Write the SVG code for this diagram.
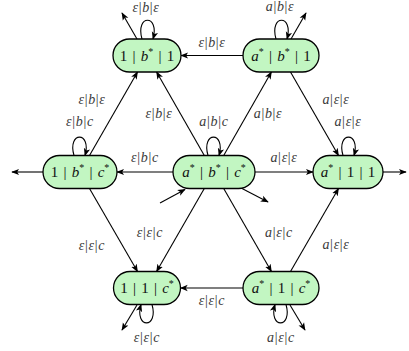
<svg xmlns="http://www.w3.org/2000/svg" width="409" height="351" viewBox="0 0 409 351">
<style>
.node rect{fill:#c2f6c2;stroke:#000;stroke-width:1.3}
.n{font-family:"Liberation Serif","DejaVu Serif",serif;font-size:15px;text-anchor:middle;fill:#111;word-spacing:1.5px}
.i{font-style:italic}
.s{font-size:10px}
.l{font-family:"Liberation Serif","DejaVu Serif",serif;font-size:14px;text-anchor:middle;fill:#3a3a3a;letter-spacing:0.7px}
.e path{fill:none;stroke:#000;stroke-width:1.1;marker-end:url(#ah)}
</style>
<defs>
<marker id="ah" viewBox="0 0 10 10" refX="9" refY="5" markerWidth="8" markerHeight="8" orient="auto" markerUnits="userSpaceOnUse">
<path d="M0,1 L10,5 L0,9 L2.5,5 z" fill="#000"/>
</marker>
</defs>
<g id="edges" class="e">
<path d="M243,55.5 L181,55.5"/>
<path d="M204.3,155.5 L156.6,72"/>
<path d="M89.5,155.5 L137.5,72"/>
<path d="M223.7,155.5 L271.4,72"/>
<path d="M290.5,72 L338.5,155.5"/>
<path d="M173,172 L117,172"/>
<path d="M255,172 L313,172"/>
<path d="M204.3,188.5 L156.6,271.5"/>
<path d="M89.5,188.5 L137.5,271.5"/>
<path d="M223.7,188.5 L271.4,271.5"/>
<path d="M290.5,271.5 L338.5,188.5"/>
<path d="M243,288 L180.5,288"/>
<path d="M160,203 L185,189.5"/>
<path d="M43,172 L12,172"/>
<path d="M383,172 L406,172"/>
<path d="M137,39 L122,13"/>
<path d="M291,39 L306,13"/>
<path d="M242,188.5 L268,202"/>
<path d="M137,305 L122,330"/>
<path d="M290,305 L305,330"/>
<path d="M142,39 C135,14 160,14 153,39"/>
<path d="M276,39 C269,14 294,14 287,39"/>
<path d="M74,155.5 C67,131 92,131 85,155.5"/>
<path d="M208,155.5 C201,131 226,131 219,155.5"/>
<path d="M343,155.5 C336,131 361,131 354,155.5"/>
<path d="M152,304.5 C159,329 134,329 141,304.5"/>
<path d="M286,304.5 C293,329 268,329 275,304.5"/>
</g>
<g id="labels">
<text class="l" x="146" y="12"><tspan class="i">ε</tspan>|<tspan class="i">b</tspan>|<tspan class="i">ε</tspan></text>
<text class="l" x="280" y="11"><tspan class="i">a</tspan>|<tspan class="i">b</tspan>|<tspan class="i">ε</tspan></text>
<text class="l" x="212" y="47"><tspan class="i">ε</tspan>|<tspan class="i">b</tspan>|<tspan class="i">ε</tspan></text>
<text class="l" x="92" y="104"><tspan class="i">ε</tspan>|<tspan class="i">b</tspan>|<tspan class="i">ε</tspan></text>
<text class="l" x="80" y="126"><tspan class="i">ε</tspan>|<tspan class="i">b</tspan>|<tspan class="i">c</tspan></text>
<text class="l" x="159" y="118"><tspan class="i">ε</tspan>|<tspan class="i">b</tspan>|<tspan class="i">ε</tspan></text>
<text class="l" x="214" y="126"><tspan class="i">a</tspan>|<tspan class="i">b</tspan>|<tspan class="i">c</tspan></text>
<text class="l" x="268" y="118"><tspan class="i">a</tspan>|<tspan class="i">b</tspan>|<tspan class="i">ε</tspan></text>
<text class="l" x="336" y="104"><tspan class="i">a</tspan>|<tspan class="i">ε</tspan>|<tspan class="i">ε</tspan></text>
<text class="l" x="348" y="126"><tspan class="i">a</tspan>|<tspan class="i">ε</tspan>|<tspan class="i">ε</tspan></text>
<text class="l" x="145" y="162"><tspan class="i">ε</tspan>|<tspan class="i">b</tspan>|<tspan class="i">c</tspan></text>
<text class="l" x="284" y="162"><tspan class="i">a</tspan>|<tspan class="i">ε</tspan>|<tspan class="i">ε</tspan></text>
<text class="l" x="150" y="237"><tspan class="i">ε</tspan>|<tspan class="i">ε</tspan>|<tspan class="i">c</tspan></text>
<text class="l" x="92" y="250"><tspan class="i">ε</tspan>|<tspan class="i">ε</tspan>|<tspan class="i">c</tspan></text>
<text class="l" x="279" y="237"><tspan class="i">a</tspan>|<tspan class="i">ε</tspan>|<tspan class="i">c</tspan></text>
<text class="l" x="336" y="249"><tspan class="i">a</tspan>|<tspan class="i">ε</tspan>|<tspan class="i">ε</tspan></text>
<text class="l" x="212" y="305"><tspan class="i">ε</tspan>|<tspan class="i">ε</tspan>|<tspan class="i">c</tspan></text>
<text class="l" x="147" y="342"><tspan class="i">ε</tspan>|<tspan class="i">ε</tspan>|<tspan class="i">c</tspan></text>
<text class="l" x="281" y="342"><tspan class="i">a</tspan>|<tspan class="i">ε</tspan>|<tspan class="i">c</tspan></text>
</g>
<g id="n1" class="node"><rect x="113" y="39" width="68" height="33" rx="16.5"/>
<text class="n" x="147" y="60.5">1 | <tspan class="i">b</tspan><tspan class="s" dy="-6">*</tspan><tspan dy="6"> | 1</tspan></text></g>
<g id="n2" class="node"><rect x="243" y="39" width="76" height="33" rx="16.5"/>
<text class="n" x="281" y="60.5"><tspan class="i">a</tspan><tspan class="s" dy="-6">*</tspan><tspan dy="6"> | </tspan><tspan class="i">b</tspan><tspan class="s" dy="-6">*</tspan><tspan dy="6"> | 1</tspan></text></g>
<g id="n3" class="node"><rect x="43" y="155.5" width="74" height="33" rx="16.5"/>
<text class="n" x="80" y="177">1 | <tspan class="i">b</tspan><tspan class="s" dy="-6">*</tspan><tspan dy="6"> | </tspan><tspan class="i">c</tspan><tspan class="s" dy="-6">*</tspan></text></g>
<g id="n4" class="node"><rect x="173" y="155.5" width="82" height="33" rx="16.5"/>
<text class="n" x="214" y="177"><tspan class="i">a</tspan><tspan class="s" dy="-6">*</tspan><tspan dy="6"> | </tspan><tspan class="i">b</tspan><tspan class="s" dy="-6">*</tspan><tspan dy="6"> | </tspan><tspan class="i">c</tspan><tspan class="s" dy="-6">*</tspan></text></g>
<g id="n5" class="node"><rect x="313" y="155.5" width="70" height="33" rx="16.5"/>
<text class="n" x="348" y="177"><tspan class="i">a</tspan><tspan class="s" dy="-6">*</tspan><tspan dy="6"> | 1 | 1</tspan></text></g>
<g id="n6" class="node"><rect x="113.5" y="271.5" width="67" height="33" rx="16.5"/>
<text class="n" x="147" y="293">1 | 1 | <tspan class="i">c</tspan><tspan class="s" dy="-6">*</tspan></text></g>
<g id="n7" class="node"><rect x="243" y="271.5" width="76" height="33" rx="16.5"/>
<text class="n" x="281" y="293"><tspan class="i">a</tspan><tspan class="s" dy="-6">*</tspan><tspan dy="6"> | 1 | </tspan><tspan class="i">c</tspan><tspan class="s" dy="-6">*</tspan></text></g>
</svg>
